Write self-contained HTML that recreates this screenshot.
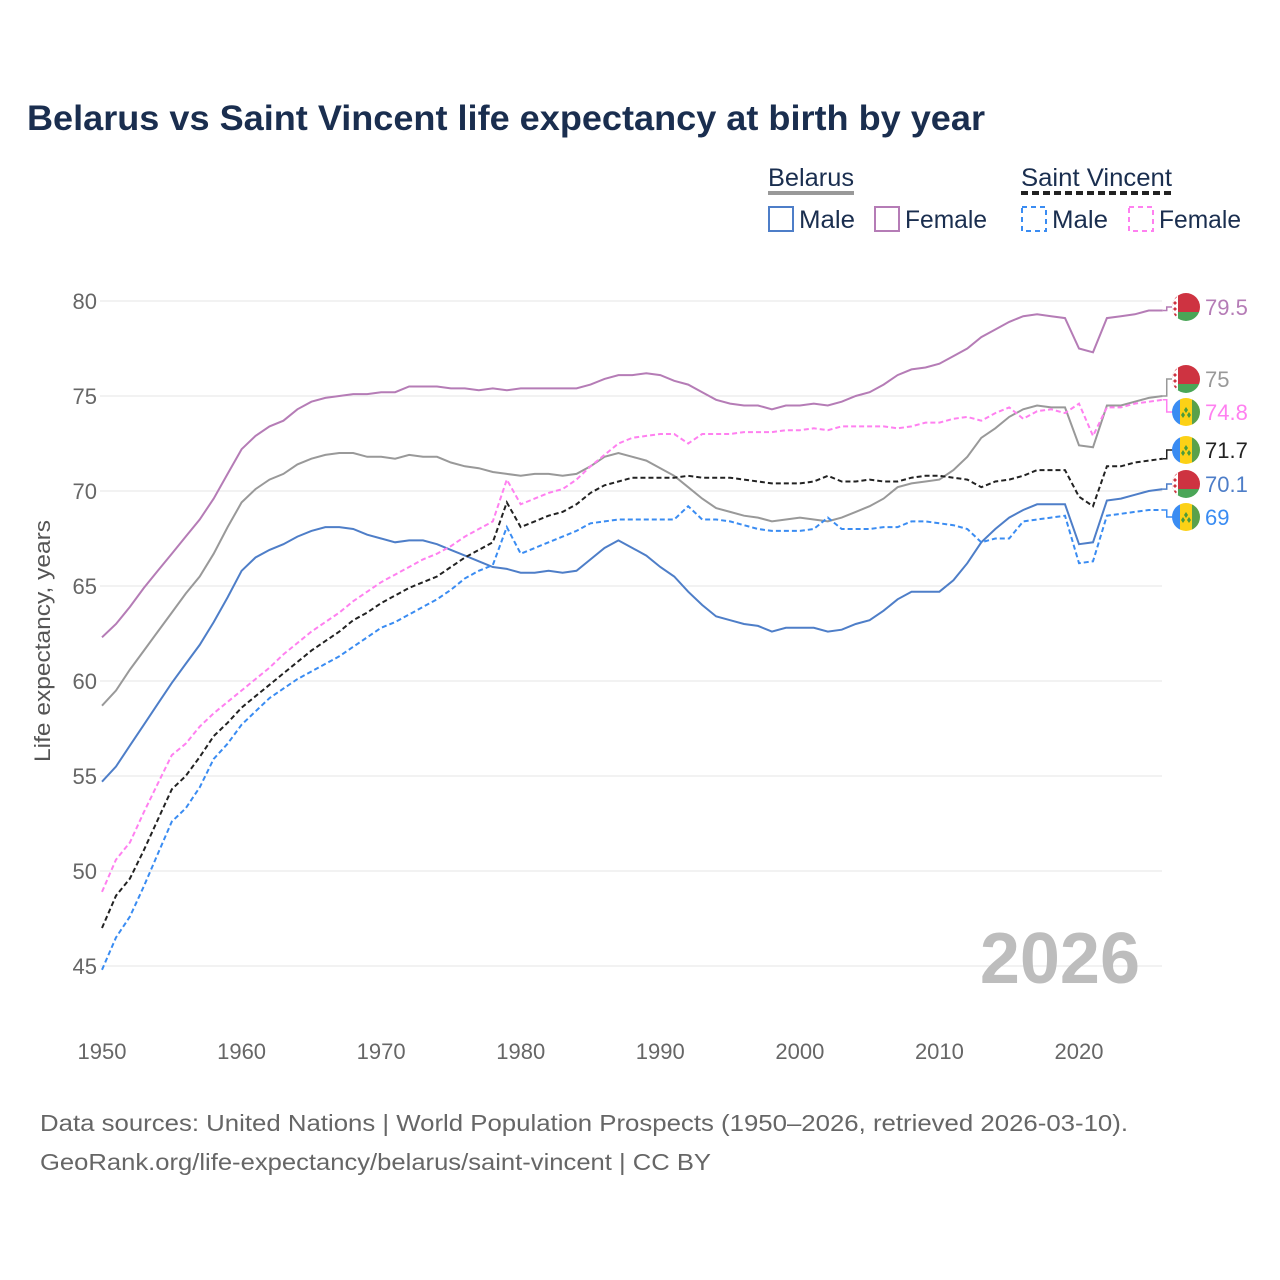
<!DOCTYPE html>
<html><head><meta charset="utf-8"><style>
body{margin:0;background:#fff;}
svg{display:block;font-family:"Liberation Sans",sans-serif;}
</style></head><body>
<svg id="chart" width="1280" height="1280" viewBox="0 0 1280 1280">
<defs>
<clipPath id="fc"><circle cx="0" cy="0" r="14"/></clipPath>
<g id="flag-by"><g clip-path="url(#fc)"><rect x="-14" y="-14" width="28" height="19" fill="#ce3341"/><rect x="-14" y="5" width="28" height="9" fill="#4aa657"/><rect x="-14" y="-14" width="6" height="28" fill="#fff"/><path d="M-11,-12 l2,2 -2,2 -2,-2z M-11,-6 l2,2 -2,2 -2,-2z M-11,0 l2,2 -2,2 -2,-2z M-11,6 l2,2 -2,2 -2,-2z" fill="#ce3341"/></g></g>
<g id="flag-vc"><g clip-path="url(#fc)"><rect x="-14" y="-14" width="8" height="28" fill="#3a8cf2"/><rect x="-6" y="-14" width="14" height="28" fill="#fcd116"/><rect x="6" y="-14" width="8" height="28" fill="#5aa14a"/><path d="M-3,0 l2,3 -2,3 -2,-3z M3,0 l2,3 -2,3 -2,-3z M0,-5 l2,3 -2,3 -2,-3z" fill="#4a9a3a"/></g></g>
</defs>
<text x="27" y="130" font-size="35" font-weight="bold" fill="#1a2e4f" textLength="958" lengthAdjust="spacingAndGlyphs">Belarus vs Saint Vincent life expectancy at birth by year</text>
<g font-size="25" fill="#1a2e4f">
<text x="768" y="186" textLength="86" lengthAdjust="spacingAndGlyphs">Belarus</text>
<line x1="768" y1="193" x2="854" y2="193" stroke="#999" stroke-width="4"/>
<text x="1021" y="186" textLength="151" lengthAdjust="spacingAndGlyphs">Saint Vincent</text>
<line x1="1021" y1="193" x2="1172" y2="193" stroke="#222" stroke-width="4" stroke-dasharray="7,4"/>
<g><rect x="769" y="207" width="24" height="24" fill="none" stroke="#4e7ec8" stroke-width="2"/><text x="799" y="228" textLength="56" lengthAdjust="spacingAndGlyphs">Male</text></g>
<g><rect x="875" y="207" width="24" height="24" fill="none" stroke="#b57cb6" stroke-width="2"/><text x="905" y="228" textLength="82" lengthAdjust="spacingAndGlyphs">Female</text></g>
<g><rect x="1022" y="207" width="24" height="24" fill="none" stroke="#3a8cf2" stroke-width="2" stroke-dasharray="5,4"/><text x="1052" y="228" textLength="56" lengthAdjust="spacingAndGlyphs">Male</text></g>
<g><rect x="1129" y="207" width="24" height="24" fill="none" stroke="#ff80f0" stroke-width="2" stroke-dasharray="5,4"/><text x="1159" y="228" textLength="82" lengthAdjust="spacingAndGlyphs">Female</text></g>
</g>
<g id="grid"></g>
<g id="series"></g>
<g id="labels"></g>
<text x="1140" y="983" font-size="72" font-weight="bold" fill="#bdbdbd" text-anchor="end">2026</text>
<text transform="translate(50,641) rotate(-90)" font-size="22" fill="#555" text-anchor="middle" textLength="242" lengthAdjust="spacingAndGlyphs">Life expectancy, years</text>
<text x="40" y="1131" font-size="23" fill="#666" textLength="1088" lengthAdjust="spacingAndGlyphs">Data sources: United Nations | World Population Prospects (1950–2026, retrieved 2026-03-10).</text>
<text x="40" y="1170" font-size="23" fill="#666" textLength="671" lengthAdjust="spacingAndGlyphs">GeoRank.org/life-expectancy/belarus/saint-vincent | CC BY</text>
</svg>
<script>
const yTicks=[45,50,55,60,65,70,75,80];
const xTicks=[1950,1960,1970,1980,1990,2000,2010,2020];
const startYear=1950;
const byFemale=[62.3,63.0,63.9,64.9,65.8,66.7,67.6,68.5,69.6,70.9,72.2,72.9,73.4,73.7,74.3,74.7,74.9,75.0,75.1,75.1,75.2,75.2,75.5,75.5,75.5,75.4,75.4,75.3,75.4,75.3,75.4,75.4,75.4,75.4,75.4,75.6,75.9,76.1,76.1,76.2,76.1,75.8,75.6,75.2,74.8,74.6,74.5,74.5,74.3,74.5,74.5,74.6,74.5,74.7,75.0,75.2,75.6,76.1,76.4,76.5,76.7,77.1,77.5,78.1,78.5,78.9,79.2,79.3,79.2,79.1,77.5,77.3,79.1,79.2,79.3,79.5,79.5];
const byTotal=[58.7,59.5,60.6,61.6,62.6,63.6,64.6,65.5,66.7,68.1,69.4,70.1,70.6,70.9,71.4,71.7,71.9,72.0,72.0,71.8,71.8,71.7,71.9,71.8,71.8,71.5,71.3,71.2,71.0,70.9,70.8,70.9,70.9,70.8,70.9,71.3,71.8,72.0,71.8,71.6,71.2,70.8,70.2,69.6,69.1,68.9,68.7,68.6,68.4,68.5,68.6,68.5,68.4,68.6,68.9,69.2,69.6,70.2,70.4,70.5,70.6,71.1,71.8,72.8,73.3,73.9,74.3,74.5,74.4,74.4,72.4,72.3,74.5,74.5,74.7,74.9,75.0];
const byMale=[54.7,55.5,56.6,57.7,58.8,59.9,60.9,61.9,63.1,64.4,65.8,66.5,66.9,67.2,67.6,67.9,68.1,68.1,68.0,67.7,67.5,67.3,67.4,67.4,67.2,66.9,66.6,66.3,66.0,65.9,65.7,65.7,65.8,65.7,65.8,66.4,67.0,67.4,67.0,66.6,66.0,65.5,64.7,64.0,63.4,63.2,63.0,62.9,62.6,62.8,62.8,62.8,62.6,62.7,63.0,63.2,63.7,64.3,64.7,64.7,64.7,65.3,66.2,67.3,68.0,68.6,69.0,69.3,69.3,69.3,67.2,67.3,69.5,69.6,69.8,70.0,70.1];
const svFemale=[48.9,50.6,51.5,53.1,54.6,56.1,56.7,57.6,58.3,58.9,59.5,60.1,60.7,61.4,62.0,62.6,63.1,63.6,64.2,64.7,65.2,65.6,66.0,66.4,66.7,67.1,67.6,68.0,68.4,70.6,69.3,69.6,69.9,70.1,70.6,71.3,71.9,72.5,72.8,72.9,73.0,73.0,72.5,73.0,73.0,73.0,73.1,73.1,73.1,73.2,73.2,73.3,73.2,73.4,73.4,73.4,73.4,73.3,73.4,73.6,73.6,73.8,73.9,73.7,74.1,74.4,73.8,74.2,74.3,74.1,74.6,72.9,74.4,74.4,74.6,74.7,74.8];
const svTotal=[47.0,48.7,49.6,51.1,52.7,54.3,55.0,56.0,57.1,57.8,58.6,59.2,59.8,60.4,61.0,61.6,62.1,62.6,63.2,63.6,64.1,64.5,64.9,65.2,65.5,66.0,66.5,66.9,67.3,69.4,68.1,68.4,68.7,68.9,69.3,69.9,70.3,70.5,70.7,70.7,70.7,70.7,70.8,70.7,70.7,70.7,70.6,70.5,70.4,70.4,70.4,70.5,70.8,70.5,70.5,70.6,70.5,70.5,70.7,70.8,70.8,70.7,70.6,70.2,70.5,70.6,70.8,71.1,71.1,71.1,69.7,69.2,71.3,71.3,71.5,71.6,71.7];
const svMale=[44.8,46.5,47.6,49.2,50.9,52.6,53.3,54.4,55.9,56.7,57.7,58.4,59.1,59.6,60.1,60.5,60.9,61.3,61.8,62.3,62.8,63.1,63.5,63.9,64.3,64.8,65.4,65.8,66.1,68.1,66.7,67.0,67.3,67.6,67.9,68.3,68.4,68.5,68.5,68.5,68.5,68.5,69.2,68.5,68.5,68.4,68.2,68.0,67.9,67.9,67.9,68.0,68.6,68.0,68.0,68.0,68.1,68.1,68.4,68.4,68.3,68.2,68.0,67.3,67.5,67.5,68.4,68.5,68.6,68.7,66.2,66.3,68.7,68.8,68.9,69.0,69.0];

const NS='http://www.w3.org/2000/svg';
const x=yr=>102+(yr-1950)*(1079-102)/70;
const y=v=>301+(80-v)*19;
function mk(tag,attrs,parent){const e=document.createElementNS(NS,tag);for(const k in attrs)e.setAttribute(k,attrs[k]);parent.appendChild(e);return e;}
const grid=document.getElementById('grid');
yTicks.forEach(t=>{
  const l=mk('line',{x1:100,x2:1162,y1:y(t),y2:y(t),stroke:'#e6e6e6','stroke-width':1},grid);
  
  
  const tx=mk('text',{x:97,y:y(t)+8,'font-size':22,fill:'#666','text-anchor':'end'},grid);
  tx.textContent=t;
  
  
});
xTicks.forEach(t=>{
  const tx=mk('text',{x:x(t),y:1059,'font-size':22,fill:'#666','text-anchor':'middle'},grid);
  tx.textContent=t;
  
  
});
const series=[
 {d:byFemale,c:'#b57cb6',dash:null,n:'belarus-female',ly:307,flag:'by',lab:'79.5'},
 {d:byTotal,c:'#999',dash:null,n:'belarus-total',ly:379,flag:'by',lab:'75'},
 {d:byMale,c:'#4e7ec8',dash:null,n:'belarus-male',ly:484,flag:'by',lab:'70.1'},
 {d:svFemale,c:'#ff80f0',dash:'5,3',n:'sv-female',ly:412,flag:'vc',lab:'74.8'},
 {d:svTotal,c:'#222',dash:'5,3',n:'sv-total',ly:450,flag:'vc',lab:'71.7'},
 {d:svMale,c:'#3a8cf2',dash:'5,3',n:'sv-male',ly:517,flag:'vc',lab:'69'}
];
const sg=document.getElementById('series'), lg=document.getElementById('labels');
series.forEach(s=>{
  const pts=s.d.map((v,i)=>x(startYear+i).toFixed(1)+','+y(v).toFixed(1)).join(' ');
  const a={points:pts,fill:'none',stroke:s.c,'stroke-width':2};
  if(s.dash)a['stroke-dasharray']=s.dash;
  const p=mk('polyline',a,sg);
  
  
  const last=s.d[s.d.length-1], ex=x(startYear+s.d.length-1), ey=y(last);
  const c=mk('polyline',{points:`${ex},${ey} ${ex+4},${ey} ${ex+4},${s.ly} ${ex+10},${s.ly}`,fill:'none',stroke:s.c,'stroke-width':1.5},lg);
  
  
  const f=mk('use',{href:'#flag-'+s.flag,x:1186,y:s.ly},lg);
  
  
  const t=mk('text',{x:1205,y:s.ly+8,'font-size':22,fill:s.c},lg);
  t.textContent=s.lab;
  
  
});
</script>
</body></html>
